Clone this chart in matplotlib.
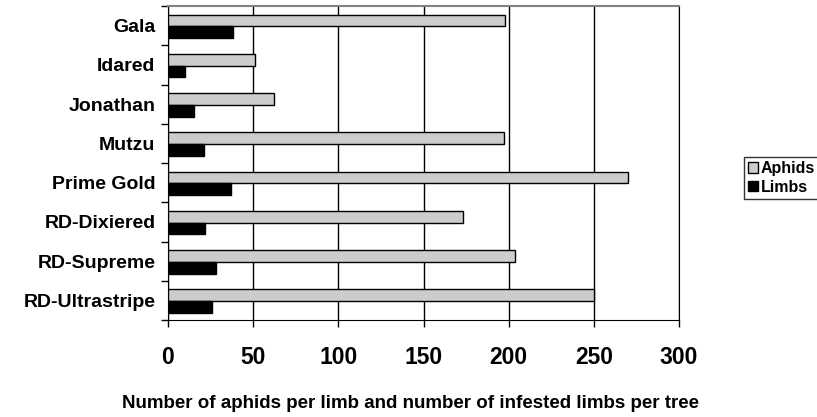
import numpy as np
import matplotlib.pyplot as plt

plt.rcParams['font.family'] = ['Liberation Sans', 'DejaVu Sans']
plt.rcParams['font.weight'] = 'bold'

varieties = ["Gala", "Idared", "Jonathan", "Mutzu", "Prime Gold",
             "RD-Dixiered", "RD-Supreme", "RD-Ultrastripe"]
aphids = [198, 51, 62, 197, 270, 173, 204, 250]
limbs = [38, 10, 15, 21, 37, 22, 28, 26]

fig = plt.figure(figsize=(8.17, 4.17), dpi=100)
ax = fig.add_axes([168 / 817, 1 - 320 / 417, (679 - 168) / 817, (320 - 6) / 417])

y = np.arange(len(varieties))
h = 0.3
ax.barh(y - h / 2 + 0.02, aphids, height=h, color='#cccccc', edgecolor='black',
        linewidth=1, label="Aphids", zorder=3)
ax.barh(y + h / 2 + 0.02, limbs, height=h, color='black', edgecolor='black',
        linewidth=1, label="Limbs", zorder=3)

ax.set_xlim(0, 300)
ax.set_ylim(len(varieties) - 0.5, -0.5)
ax.set_xticks(range(0, 301, 50))
ax.set_yticks(y)
ax.set_yticklabels(varieties, fontsize=14, fontweight='bold')
ax.tick_params(axis='y', length=0, pad=9)
ax.set_yticks(np.arange(-0.5, len(varieties), 1), minor=True)
ax.tick_params(axis='y', which='minor', length=5, direction='out', width=1)
ax.tick_params(axis='x', length=5, direction='out', width=1, labelsize=16.5, pad=14)
for lbl in ax.get_xticklabels():
    lbl.set_fontweight('bold')

ax.grid(True, axis='x', color='black', linewidth=1, zorder=0)
ax.spines['right'].set_color('black')
ax.spines['top'].set_color('#808080')
ax.spines['top'].set_linewidth(1.5)
ax.spines['left'].set_color('black')
ax.spines['bottom'].set_color('black')

ax.set_xlabel("Number of aphids per limb and number of infested limbs per tree",
              fontsize=13.5, fontweight='bold')
ax.xaxis.set_label_coords(0.474, -0.24)

leg = ax.legend(loc='center left', bbox_to_anchor=(744 / 817, 0.573),
                bbox_transform=fig.transFigure, frameon=True, fancybox=False,
                edgecolor='black', fontsize=11.5, handlelength=0.6,
                handleheight=0.6, handletextpad=0.2, borderpad=0.25,
                labelspacing=0.25, borderaxespad=0)
leg.get_frame().set_linewidth(1)

fig.savefig("out.png", dpi=100)
